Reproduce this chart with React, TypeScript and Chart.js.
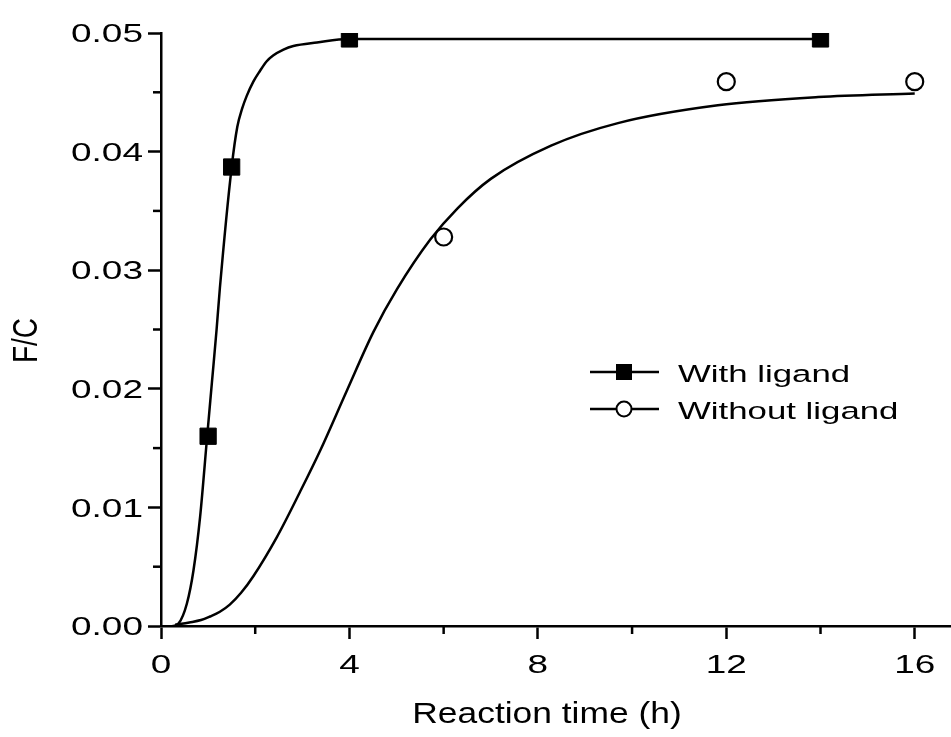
import React, { useEffect, useRef } from "react";
import { Chart, registerables } from "chart.js";

Chart.register(...registerables);

// Measured data points
const withLigandX = [1, 1.5, 4, 14];
const withLigandY = [0.016, 0.0387, 0.0495, 0.0495];
const withoutLigandX = [6, 12, 16];
const withoutLigandY = [0.0328, 0.0459, 0.0459];

// Fitted curves
const withFitX = [0.25, 0.37, 0.55, 0.69, 0.83, 0.98, 1.08, 1.18, 1.25, 1.5, 1.62, 1.72, 1.82, 1.96, 2.1, 2.24, 2.38, 2.6, 2.81, 3.31, 3.98, 14.0];
const withFitY = [0, 0.0002, 0.0019, 0.0047, 0.0092, 0.016, 0.0205, 0.025, 0.0285, 0.0387, 0.0421, 0.0436, 0.0447, 0.0459, 0.0468, 0.0476, 0.0481, 0.0486, 0.0489, 0.0492, 0.0495, 0.0495];
const withoutFitX = [0.3, 0.6, 0.85, 1.04, 1.25, 1.46, 1.7, 1.96, 2.46, 2.95, 3.38, 3.94, 4.51, 5.01, 5.72, 6.29, 7.0, 8.28, 9.7, 11.82, 13.95, 16.0];
const withoutFitY = [0.0001, 0.0003, 0.0005, 0.0008, 0.0012, 0.0018, 0.0028, 0.0042, 0.0075, 0.0113, 0.0148, 0.0198, 0.0248, 0.0284, 0.0326, 0.0352, 0.0377, 0.0405, 0.0424, 0.0439, 0.0446, 0.0449];

// Axis ticks
const xMajorTicks = [0, 4, 8, 12, 16];
const xMinorTicks = [2, 6, 10, 14];
const yMajorTicks = [0, 0.01, 0.02, 0.03, 0.04, 0.05];
const yMinorTicks = [0.005, 0.015, 0.025, 0.035, 0.045];

const legendLabels = ["With ligand", "Without ligand"];
const xTitle = "Reaction time (h)";
const yTitle = "F/C";

const FONT = "'Liberation Sans', Arial, sans-serif";

const zip = (xs: number[], ys: number[]) => xs.map((x, i) => ({ x, y: ys[i] }));

function drawText(
  ctx: CanvasRenderingContext2D,
  text: string,
  x: number,
  y: number,
  size: number,
  stretch: number,
  align: CanvasTextAlign,
  rotated = false
) {
  ctx.save();
  ctx.translate(x, y);
  if (rotated) {
    ctx.rotate(-Math.PI / 2);
    ctx.scale(1, stretch);
  } else {
    ctx.scale(stretch, 1);
  }
  ctx.font = `${size}px ${FONT}`;
  ctx.fillStyle = "#000";
  ctx.textAlign = align;
  ctx.textBaseline = rotated ? "middle" : "alphabetic";
  ctx.fillText(text, 0, 0);
  ctx.restore();
}

const decorPlugin = {
  id: "decor",
  afterDraw(chart: any) {
    const ctx = chart.ctx as CanvasRenderingContext2D;
    const xs = chart.scales.x;
    const ys = chart.scales.y;
    const area = chart.chartArea;
    ctx.save();
    ctx.strokeStyle = "#000";
    ctx.lineWidth = 2.5;
    // minor ticks
    xMinorTicks.forEach((v) => {
      const px = xs.getPixelForValue(v);
      ctx.beginPath();
      ctx.moveTo(px, area.bottom);
      ctx.lineTo(px, area.bottom + 8);
      ctx.stroke();
    });
    yMinorTicks.forEach((v) => {
      const py = ys.getPixelForValue(v);
      ctx.beginPath();
      ctx.moveTo(area.left, py);
      ctx.lineTo(area.left - 8, py);
      ctx.stroke();
    });

    // tick labels
    xs.ticks.forEach((t: any) => {
      const px = xs.getPixelForValue(t.value);
      drawText(ctx, String(t.value), px, area.bottom + 47, 26, 1.42, "center");
    });
    ys.ticks.forEach((t: any) => {
      const py = ys.getPixelForValue(t.value);
      drawText(ctx, Number(t.value).toFixed(2), area.left - 18, py + 9.2, 25.5, 1.45, "right");
    });

    // axis titles
    drawText(ctx, xTitle, 547, 723, 30, 1.18, "center");
    drawText(ctx, yTitle, 28, (area.top + area.bottom) / 2 + 11, 28, 1.23, "center", true);

    // legend
    const lx0 = 590;
    const lx1 = 659;
    const mx = 624;
    const tx = 678;
    const rows = [372, 409];
    rows.forEach((ry, i) => {
      ctx.lineWidth = 2.5;
      ctx.strokeStyle = "#000";
      ctx.beginPath();
      ctx.moveTo(lx0, ry);
      ctx.lineTo(lx1, ry);
      ctx.stroke();
      if (i === 0) {
        ctx.fillStyle = "#000";
        ctx.fillRect(mx - 8, ry - 8, 16, 16);
      } else {
        ctx.beginPath();
        ctx.arc(mx, ry, 7.5, 0, Math.PI * 2);
        ctx.fillStyle = "#fff";
        ctx.fill();
        ctx.lineWidth = 2;
        ctx.stroke();
      }
      drawText(ctx, legendLabels[i], tx, ry + 9.5, 24.5, 1.42, "left");
    });
    ctx.restore();
  },
};

export default function App() {
  const canvasRef = useRef<HTMLCanvasElement | null>(null);

  useEffect(() => {
    const canvas = canvasRef.current;
    if (!canvas) return;
    const chart = new Chart(canvas, {
      type: "scatter",
      data: {
        datasets: [
          {
            label: legendLabels[0],
            data: zip(withLigandX, withLigandY),
            showLine: false,
            pointStyle: "rect",
            pointRadius: 11.5,
            pointBorderWidth: 1,
            pointBackgroundColor: "#000",
            pointBorderColor: "#000",
            order: 0,
          },
          {
            label: legendLabels[1],
            data: zip(withoutLigandX, withoutLigandY),
            showLine: false,
            pointStyle: "circle",
            pointRadius: 8.5,
            pointBorderWidth: 2.2,
            pointBackgroundColor: "#fff",
            pointBorderColor: "#000",
            order: 0,
          },
          {
            label: "fit1",
            data: zip(withFitX, withFitY),
            showLine: true,
            pointRadius: 0,
            borderColor: "#000",
            borderWidth: 2.5,
            cubicInterpolationMode: "monotone",
            order: 1,
          } as any,
          {
            label: "fit2",
            data: zip(withoutFitX, withoutFitY),
            showLine: true,
            pointRadius: 0,
            borderColor: "#000",
            borderWidth: 2.5,
            cubicInterpolationMode: "monotone",
            order: 1,
          } as any,
        ],
      },
      options: {
        responsive: false,
        animation: false,
        devicePixelRatio: 1,
        layout: { autoPadding: false, padding: { top: 33, right: 0, bottom: 98, left: 148 } },
        plugins: {
          legend: { display: false },
          tooltip: { enabled: false },
        },
        scales: {
          x: {
            type: "linear",
            min: 0,
            max: 16.77,
            afterBuildTicks: (scale: any) => {
              scale.ticks = xMajorTicks.map((v) => ({ value: v }));
            },
            ticks: { display: false },
            grid: {
              display: true,
              drawOnChartArea: false,
              drawTicks: true,
              tickLength: 13,
              tickWidth: 2.5,
              tickColor: "#000",
            },
            border: { display: true, color: "#000", width: 2.5 },
            title: { display: false },
          },
          y: {
            type: "linear",
            min: 0,
            max: 0.05,
            afterBuildTicks: (scale: any) => {
              scale.ticks = yMajorTicks.map((v) => ({ value: v }));
            },
            ticks: { display: false },
            grid: {
              display: true,
              drawOnChartArea: false,
              drawTicks: true,
              tickLength: 13,
              tickWidth: 2.5,
              tickColor: "#000",
            },
            border: { display: true, color: "#000", width: 2.5 },
            title: { display: false },
          },
        },
      },
      plugins: [decorPlugin],
    });
    return () => chart.destroy();
  }, []);

  return (
    <div style={{ position: "absolute", left: 0, top: 0, width: 951, height: 737, background: "#fff" }}>
      <canvas ref={canvasRef} width={951} height={737} style={{ display: "block", width: 951, height: 737 }} />
    </div>
  );
}
